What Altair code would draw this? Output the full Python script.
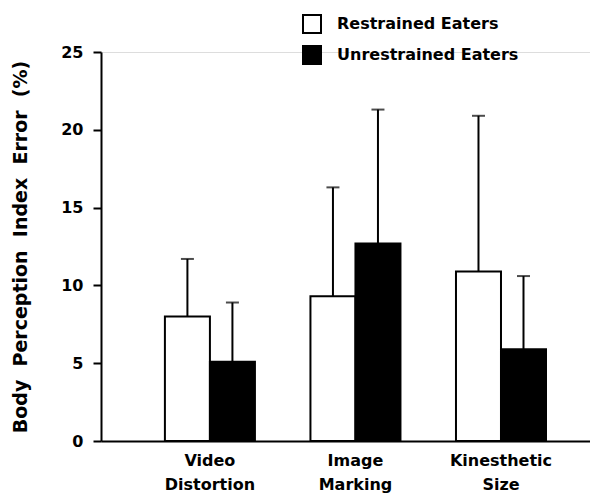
import altair as alt
import pandas as pd

categories = ["Video Distortion", "Image Marking", "Kinesthetic Size"]
groups = ["Restrained Eaters", "Unrestrained Eaters"]
restrained_mean = [8.0, 9.3, 10.9]
restrained_sd = [3.7, 7.0, 10.0]
unrestrained_mean = [5.1, 12.7, 5.9]
unrestrained_sd = [3.8, 8.6, 4.7]
y_ticks = [0, 5, 10, 15, 20, 25]
y_title = "\u00a0\u00a0".join(["Body", "Perception", "Index", "Error", "(%)"])

rows = []
for i, c in enumerate(categories):
    rows.append({"task": c, "group": groups[0], "mean": restrained_mean[i],
                 "top": restrained_mean[i] + restrained_sd[i]})
    rows.append({"task": c, "group": groups[1], "mean": unrestrained_mean[i],
                 "top": unrestrained_mean[i] + unrestrained_sd[i]})
df = pd.DataFrame(rows)

FONT = "DejaVu Sans"

x_enc = alt.X("task:N", sort=categories,
              scale=alt.Scale(paddingInner=0, paddingOuter=0.18, align=0.69),
              axis=alt.Axis(title=None, labelAngle=0, ticks=False,
                            labelExpr="split(datum.label, ' ')",
                            labelFont=FONT, labelFontWeight="bold",
                            labelFontSize=16, labelLineHeight=24,
                            labelPadding=11, labelColor="black",
                            domainColor="black", domainWidth=2))
xoff = alt.XOffset("group:N", sort=groups,
                   scale=alt.Scale(paddingInner=0, paddingOuter=0.6167))
y_scale = alt.Scale(domain=[0, 25], nice=False)

bars = alt.Chart(df).mark_bar(stroke="black", strokeWidth=2).encode(
    x=x_enc,
    xOffset=xoff,
    y=alt.Y("mean:Q", scale=y_scale,
            axis=alt.Axis(values=y_ticks, title=y_title,
                          grid=False, tickSize=8, tickWidth=2, tickColor="black",
                          domainColor="black", domainWidth=2,
                          labelFont=FONT, labelFontWeight="bold", labelFontSize=16,
                          labelColor="black", labelPadding=10,
                          titleFont=FONT, titleFontWeight="bold", titleFontSize=19,
                          titleColor="black", titlePadding=30)),
    fill=alt.Fill("group:N", sort=groups,
                  scale=alt.Scale(domain=groups, range=["white", "black"]),
                  legend=alt.Legend(title=None, orient="none", legendX=201, legendY=-38,
                                    symbolType="square", symbolSize=324,
                                    symbolStrokeColor="black", symbolStrokeWidth=2,
                                    labelFont=FONT, labelFontWeight="bold",
                                    labelFontSize=16, labelColor="black", labelLimit=400,
                                    labelOffset=15, rowPadding=5, padding=0)),
)

rules = alt.Chart(df).mark_rule(color="black", strokeWidth=2).encode(
    x=alt.X("task:N", sort=categories),
    xOffset=alt.XOffset("group:N", sort=groups),
    y=alt.Y("mean:Q", scale=y_scale),
    y2="top:Q",
)

caps = alt.Chart(df).mark_tick(color="black", thickness=2, size=13).encode(
    x=alt.X("task:N", sort=categories),
    xOffset=alt.XOffset("group:N", sort=groups),
    y=alt.Y("top:Q", scale=y_scale),
)

chart = alt.layer(bars, rules, caps).properties(
    width=489, height=389,
    autosize=alt.AutoSizeParams(type="none"),
    padding={"left": 93, "top": 44, "right": 0, "bottom": 54},
).configure_view(stroke=None).configure(background="white")

chart.save("out.html", embed_options={"renderer": "svg", "actions": False})
